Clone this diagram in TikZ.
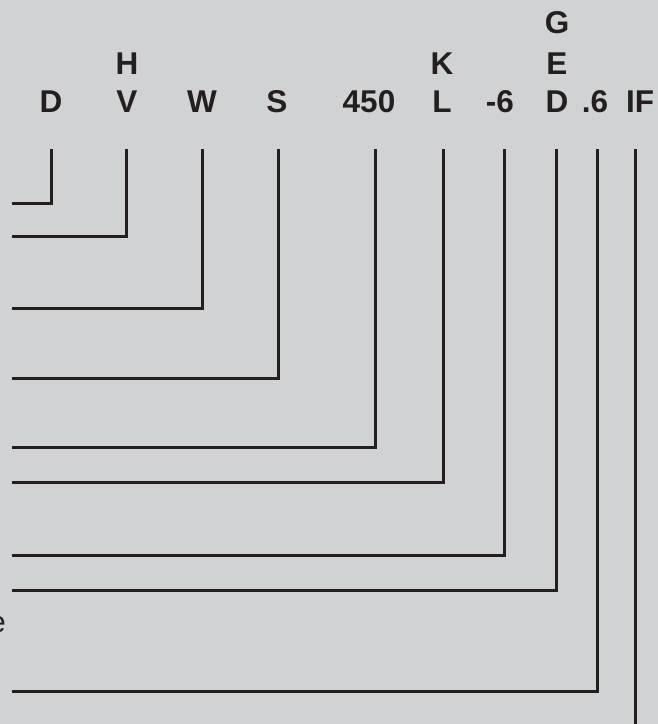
\documentclass[tikz,border=0pt]{standalone}
\usepackage{fontspec}
\setmainfont{Liberation Sans}
\definecolor{bg}{HTML}{D1D2D4}
\definecolor{ink}{HTML}{231F20}
\begin{document}
\begin{tikzpicture}[x=1pt,y=-1pt,
  lbl/.style={font=\fontsize{31.5}{31.5}\selectfont\bfseries, text=ink, anchor=base, inner sep=0pt},
  conn/.style={draw=ink, line width=3pt, line cap=rect}]
\fill[bg] (0,0) rectangle (658,724);
\useasboundingbox (0,0) rectangle (658,724);
\begin{scope}
\clip (0,0) rectangle (658,724);
% labels
\node[lbl] (lD) at (51,112) {D};
\node[lbl] (lH) at (127,74) {H};
\node[lbl] (lV) at (127,112) {V};
\node[lbl] (lW) at (202,112) {W};
\node[lbl] (lS) at (277,112) {S};
\node[lbl] (l450) at (369,112) {450};
\node[lbl] (lK) at (442,74) {K};
\node[lbl] (lL) at (442,112) {L};
\node[lbl] (lm6) at (500,112) {-6};
\node[lbl] (lG) at (557,33) {G};
\node[lbl] (lE) at (557,74) {E};
\node[lbl] (lD2) at (557,112) {D};
\node[lbl] (lp6) at (595,112) {.6};
\node[lbl] (lIF) at (640,112) {IF};
\node[font=\fontsize{30}{30}\selectfont, text=ink, anchor=base east, inner sep=0pt] (le) at (6,632) {e};
% connector tops
\coordinate (t1) at (51,150);
\coordinate (t2) at (126,150);
\coordinate (t3) at (202,150);
\coordinate (t4) at (278,150);
\coordinate (t5) at (375,150);
\coordinate (t6) at (443,150);
\coordinate (t7) at (504,150);
\coordinate (t8) at (556,150);
\coordinate (t9) at (597,150);
\coordinate (t10) at (635,150);
% connector ends
\coordinate (e1) at (13,203);
\coordinate (e2) at (13,236);
\coordinate (e3) at (13,308);
\coordinate (e4) at (13,378);
\coordinate (e5) at (13,447);
\coordinate (e6) at (13,482);
\coordinate (e7) at (13,555);
\coordinate (e8) at (13,590);
\coordinate (e9) at (13,691);
\coordinate (e10) at (635,730);
\draw[conn] (t1) |- (e1);
\draw[conn] (t2) |- (e2);
\draw[conn] (t3) |- (e3);
\draw[conn] (t4) |- (e4);
\draw[conn] (t5) |- (e5);
\draw[conn] (t6) |- (e6);
\draw[conn] (t7) |- (e7);
\draw[conn] (t8) |- (e8);
\draw[conn] (t9) |- (e9);
\draw[conn] (t10) -- (e10);
\end{scope}
\end{tikzpicture}
\end{document}
